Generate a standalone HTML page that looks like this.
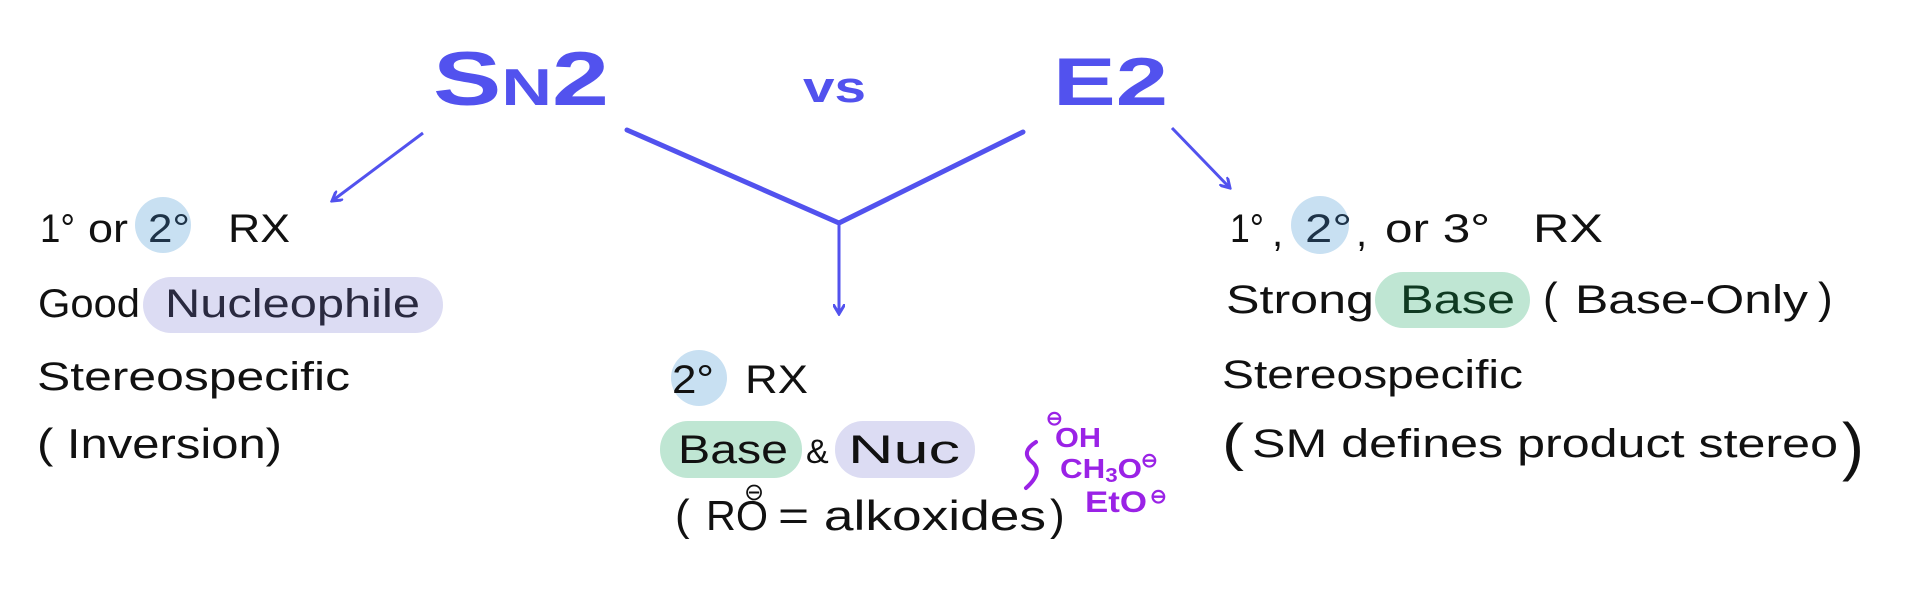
<!DOCTYPE html>
<html><head><meta charset="utf-8"><style>
html,body{margin:0;padding:0;background:#fff;width:1920px;height:594px;overflow:hidden}
svg{display:block}
text{font-family:"Liberation Sans",sans-serif;fill:#111}
.b{fill:#5252ee;font-weight:bold}
.p{fill:#9a22e6;font-weight:bold}
</style></head><body>
<svg width="1920" height="594" viewBox="0 0 1920 594">
<defs>
<marker id="ah" markerWidth="12" markerHeight="12" refX="10" refY="6" orient="auto" markerUnits="userSpaceOnUse">
<path d="M0,0 L10,6 L0,12" fill="none" stroke="#5252ee" stroke-width="3"/>
</marker>
</defs>
<text class="b" x="433" y="105" font-size="76" textLength="176" lengthAdjust="spacingAndGlyphs">S<tspan font-size="52">N</tspan>2</text>
<text class="b" x="803" y="102" font-size="44" textLength="63" lengthAdjust="spacingAndGlyphs">vs</text>
<text class="b" x="1053" y="105" font-size="68" textLength="115" lengthAdjust="spacingAndGlyphs">E2</text>
<line x1="423" y1="133" x2="332" y2="201" stroke="#5252ee" stroke-width="3" marker-end="url(#ah)"/>
<polyline points="627,130 839,223 1023,132" fill="none" stroke="#5252ee" stroke-width="5" stroke-linecap="round"/>
<line x1="839" y1="223" x2="839" y2="314" stroke="#5252ee" stroke-width="3" marker-end="url(#ah)"/>
<line x1="1172" y1="128" x2="1230" y2="188" stroke="#5252ee" stroke-width="3" marker-end="url(#ah)"/>
<circle cx="163" cy="225" r="28" fill="#c8e0f2"/>
<rect x="143" y="277" width="300" height="56" rx="28" fill="#dcdcf3"/>
<circle cx="699" cy="378" r="28" fill="#c8e0f2"/>
<rect x="660" y="421" width="142" height="57" rx="28" fill="#bfe6d3"/>
<rect x="835" y="421" width="140" height="57" rx="28" fill="#dcdcf3"/>
<circle cx="1320" cy="225" r="29" fill="#c8e0f2"/>
<rect x="1375" y="272" width="155" height="56" rx="28" fill="#bfe6d3"/>
<text x="40" y="242" font-size="40" textLength="35" lengthAdjust="spacingAndGlyphs">1°</text>
<text x="88" y="242" font-size="40" textLength="40" lengthAdjust="spacingAndGlyphs">or</text>
<text x="148" y="242" font-size="40" textLength="42" lengthAdjust="spacingAndGlyphs" style="fill:#1e3348">2°</text>
<text x="228" y="242" font-size="40" textLength="62" lengthAdjust="spacingAndGlyphs">RX</text>
<text x="38" y="317" font-size="40" textLength="102" lengthAdjust="spacingAndGlyphs">Good</text>
<text x="165" y="317" font-size="40" textLength="255" lengthAdjust="spacingAndGlyphs" style="fill:#2a2a40">Nucleophile</text>
<text x="37" y="390" font-size="40" textLength="313" lengthAdjust="spacingAndGlyphs">Stereospecific</text>
<text x="37" y="458" font-size="42" textLength="245" lengthAdjust="spacingAndGlyphs">( Inversion)</text>
<text x="672" y="393" font-size="40" textLength="42" lengthAdjust="spacingAndGlyphs">2°</text>
<text x="745" y="393" font-size="40" textLength="63" lengthAdjust="spacingAndGlyphs">RX</text>
<text x="678" y="463" font-size="40" textLength="110" lengthAdjust="spacingAndGlyphs">Base</text>
<text x="806" y="463" font-size="34">&amp;</text>
<text x="848" y="463" font-size="40" textLength="112" lengthAdjust="spacingAndGlyphs">Nuc</text>
<text x="675" y="530" font-size="44">(</text>
<text x="706" y="530" font-size="42" textLength="62" lengthAdjust="spacingAndGlyphs">RO</text>
<text x="778" y="530" font-size="42" textLength="268" lengthAdjust="spacingAndGlyphs">= alkoxides</text>
<text x="1050" y="530" font-size="44">)</text>
<text x="744" y="500" font-size="24">⊖</text>
<text class="p" x="1046" y="425" font-size="20">⊖</text>
<text class="p" x="1055" y="447" font-size="28" textLength="46" lengthAdjust="spacingAndGlyphs">OH</text>
<path d="M1036,442 q-16,10 -4,20 q12,10 -6,26" fill="none" stroke="#9a22e6" stroke-width="4" stroke-linecap="round"/>
<text class="p" x="1060" y="478" font-size="28" textLength="82" lengthAdjust="spacingAndGlyphs">CH<tspan font-size="20" dy="4">3</tspan><tspan dy="-4">O</tspan></text>
<text class="p" x="1141" y="467" font-size="20">⊖</text>
<text class="p" x="1085" y="512" font-size="30" textLength="62" lengthAdjust="spacingAndGlyphs">EtO</text>
<text class="p" x="1150" y="503" font-size="20">⊖</text>
<text x="1230" y="242" font-size="40" textLength="34" lengthAdjust="spacingAndGlyphs">1°</text>
<text x="1272" y="246" font-size="40">,</text>
<text x="1305" y="242" font-size="40" textLength="47" lengthAdjust="spacingAndGlyphs" style="fill:#1e3348">2°</text>
<text x="1356" y="246" font-size="40">,</text>
<text x="1385" y="242" font-size="40" textLength="105" lengthAdjust="spacingAndGlyphs">or 3°</text>
<text x="1533" y="242" font-size="40" textLength="70" lengthAdjust="spacingAndGlyphs">RX</text>
<text x="1226" y="313" font-size="40" textLength="148" lengthAdjust="spacingAndGlyphs">Strong</text>
<text x="1400" y="313" font-size="40" textLength="115" lengthAdjust="spacingAndGlyphs" style="fill:#0f3a22">Base</text>
<text x="1543" y="313" font-size="44">(</text>
<text x="1575" y="313" font-size="40" textLength="233" lengthAdjust="spacingAndGlyphs">Base-Only</text>
<text x="1818" y="313" font-size="44">)</text>
<text x="1222" y="388" font-size="40" textLength="301" lengthAdjust="spacingAndGlyphs">Stereospecific</text>
<text x="1222" y="460" font-size="52" textLength="22" lengthAdjust="spacingAndGlyphs">(</text>
<text x="1252" y="457" font-size="40" textLength="586" lengthAdjust="spacingAndGlyphs">SM defines product stereo</text>
<text x="1842" y="468" font-size="64" textLength="22" lengthAdjust="spacingAndGlyphs">)</text>
</svg>
</body></html>
